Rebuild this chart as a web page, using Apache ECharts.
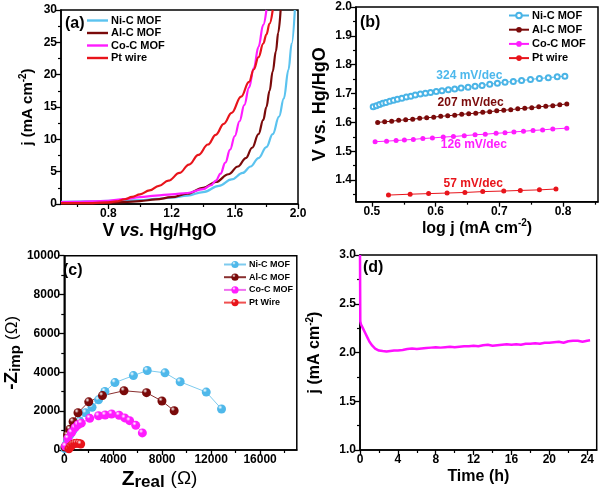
<!DOCTYPE html>
<html><head><meta charset="utf-8">
<script src="https://cdn.jsdelivr.net/npm/echarts@6/dist/echarts.min.js"></script>
<style>html,body{margin:0;padding:0;background:#fff}#c{width:600px;height:492px}</style>
</head><body><div id="c"></div>
<script>
// ---------- DATA ----------
// (a) LSV curves: potential (V vs Hg/HgO) and current density (mA cm-2)
const aNiV = [0.50,0.60,0.70,0.80,0.90,1.00,1.10,1.20,1.30,1.40,1.50,1.58,1.65,1.70,1.75,1.80,1.84,1.88,1.91,1.94,1.96,1.98];
const aNiJ = [0.35,0.38,0.42,0.47,0.53,0.62,0.78,1.0,1.3,1.85,2.8,3.8,4.8,5.8,7.1,8.8,10.8,13.5,16.3,20.8,24.8,30];
const aAlV = [0.50,0.60,0.70,0.80,0.90,1.00,1.10,1.20,1.30,1.40,1.48,1.56,1.62,1.67,1.71,1.75,1.78,1.80,1.82,1.84,1.86,1.875,1.89];
const aAlJ = [0.10,0.12,0.15,0.2,0.3,0.45,0.7,1.05,1.6,2.5,3.4,4.6,5.8,7.1,8.7,10.8,13.0,15.0,17.5,20.5,23.6,26.5,30];
const aCoV = [0.50,0.60,0.70,0.80,0.90,1.00,1.10,1.20,1.30,1.40,1.45,1.48,1.51,1.54,1.57,1.60,1.63,1.66,1.69,1.72,1.75,1.78,1.80];
const aCoJ = [0.3,0.35,0.42,0.5,0.75,1.05,1.3,1.5,1.7,2.3,2.9,3.6,4.7,6.4,8.4,10.5,12.8,15.3,18.0,21.0,24.3,27.7,30];
const aPtV = [0.50,0.60,0.70,0.80,0.85,0.90,0.95,1.00,1.06,1.12,1.18,1.25,1.31,1.37,1.43,1.48,1.53,1.58,1.64,1.69,1.72,1.75,1.78,1.80,1.82,1.84];
const aPtJ = [0.12,0.13,0.15,0.25,0.4,0.7,1.1,1.5,2.1,2.8,3.6,4.8,6.1,7.6,9.2,10.7,12.4,14.1,16.6,18.9,20.8,22.7,24.8,26.2,27.9,30];

// (b) Tafel plots: log j and V
const bNiX = [0.502,0.507,0.512,0.517,0.522,0.528,0.534,0.540,0.547,0.554,0.561,0.568,0.576,0.584,0.592,0.601,0.610,0.620,0.630,0.640,0.651,0.662,0.673,0.685,0.697,0.709,0.722,0.735,0.749,0.763,0.777,0.791,0.803];
const bNiY = [1.654,1.658,1.662,1.666,1.669,1.673,1.677,1.680,1.684,1.688,1.691,1.695,1.698,1.701,1.704,1.707,1.710,1.713,1.716,1.719,1.722,1.725,1.728,1.732,1.736,1.739,1.742,1.745,1.749,1.752,1.755,1.758,1.760];
const bAlX = [0.509,0.520,0.531,0.542,0.553,0.564,0.575,0.586,0.597,0.608,0.619,0.630,0.641,0.652,0.663,0.674,0.685,0.696,0.707,0.718,0.729,0.740,0.751,0.762,0.773,0.784,0.795,0.806];
const bAlY = [1.600,1.602,1.604,1.607,1.609,1.611,1.614,1.616,1.618,1.621,1.623,1.625,1.628,1.630,1.632,1.635,1.637,1.640,1.642,1.644,1.647,1.649,1.651,1.654,1.656,1.658,1.661,1.664];
const bCoX = [0.505,0.523,0.538,0.551,0.565,0.580,0.595,0.612,0.628,0.645,0.662,0.678,0.695,0.709,0.723,0.738,0.753,0.768,0.784,0.806];
const bCoY = [1.533,1.535,1.537,1.539,1.541,1.544,1.546,1.549,1.551,1.554,1.557,1.559,1.562,1.564,1.567,1.569,1.572,1.574,1.577,1.580];
const bPtX = [0.526,0.560,0.589,0.618,0.646,0.674,0.707,0.733,0.763,0.789];
const bPtY = [1.348,1.351,1.353,1.355,1.357,1.360,1.362,1.364,1.366,1.369];
const tafelText = ['324 mV/dec','207 mV/dec','126 mV/dec','57 mV/dec'];
const tafelTextX = [0.653,0.655,0.660,0.659];
const tafelTextY = [1.763,1.667,1.521,1.389];

// (c) Nyquist plots: [Zreal, -Zimp]
const cNi = [[50,80],[140,260],[280,520],[460,780],[720,1030],[990,1250],[1260,1490],[1740,1920],[2270,2200],[2800,2580],[3320,3010],[4140,3470],[5650,3830],[6780,4090],[8230,3970],[9470,3510],[11600,2980],[12850,2110]];
const cAl = [[60,150],[272,770],[456,1070],[720,1460],[1120,1920],[2000,2480],[3120,2800],[4880,3050],[6720,2950],[7980,2520],[8980,2020]];
const cCo = [[100,200],[300,600],[600,900],[880,1150],[1120,1300],[1390,1380],[2080,1630],[2800,1760],[3340,1800],[3870,1850],[4480,1790],[4940,1650],[5340,1510],[5840,1270],[6380,880]];
const cPt = [[380,60],[520,180],[680,280],[850,330],[1020,350],[1200,340],[1340,310]];

// (d) Chronoamperometry: time (h), j (mA cm-2)
const dT = [0,0.03,0.1,0.3,0.5,0.8,1.0,1.3,1.6,2.0,2.4,2.8,3.2,3.6,4.0,4.5,5.0,5.5,6.0,6.5,7.0,7.5,8.0,8.5,9.0,9.5,10,10.5,11,11.5,12,12.5,13,13.5,14,14.5,15,15.5,16,16.5,17,17.5,18,18.5,19,19.5,20,20.5,21,21.5,22,22.5,23,23.5,24,24.3];
const dJ = [3.0,2.32,2.29,2.25,2.21,2.15,2.11,2.07,2.04,2.02,2.015,2.01,2.015,2.02,2.02,2.025,2.035,2.04,2.035,2.04,2.045,2.05,2.055,2.05,2.055,2.06,2.055,2.06,2.065,2.065,2.07,2.065,2.075,2.08,2.07,2.075,2.08,2.085,2.08,2.085,2.08,2.09,2.09,2.095,2.09,2.10,2.10,2.105,2.11,2.10,2.115,2.12,2.12,2.11,2.12,2.125];

// tick values
const aXTicks = [0.8,1.2,1.6,2.0], aXMinor = [0.6,1.0,1.4,1.8];
const aYTicks = [0,5,10,15,20,25,30], aYMinor = [2.5,7.5,12.5,17.5,22.5,27.5];
const bXTicks = [0.5,0.6,0.7,0.8], bXMinor = [0.55,0.65,0.75,0.85];
const bYTicks = [1.4,1.5,1.6,1.7,1.8,1.9,2.0], bYMinor = [1.35,1.45,1.55,1.65,1.75,1.85,1.95];
const cXTicks = [0,4000,8000,12000,16000], cXMinor = [2000,6000,10000,14000,18000];
const cYTicks = [0,2000,4000,6000,8000,10000], cYMinor = [1000,3000,5000,7000,9000];
const dXTicks = [0,4,8,12,16,20,24], dXMinor = [2,6,10,14,18,22];
const dYTicks = [1.0,1.5,2.0,2.5,3.0], dYMinor = [1.25,1.75,2.25,2.75];

const legendA = ['Ni-C MOF','Al-C MOF','Co-C MOF','Pt wire'];
const legendC = ['Ni-C MOF','Al-C MOF','Co-C MOF','Pt Wire'];

// ---------- STYLE ----------
const FONT = '"Liberation Sans", Arial, sans-serif';
const NI = '#5BC3EF', AL = '#7A0A0A', CO = '#FF1CFF', PT = '#E8141B';
const zip = (a, b) => a.slice(0, Math.min(a.length, b.length)).map((v, i) => [v, b[i]]);

function ball(c) {
  return new echarts.graphic.RadialGradient(0.35, 0.3, 0.7, [
    {offset: 0, color: '#ffffff'}, {offset: 0.35, color: c}, {offset: 1, color: c}]);
}
function grid(l, t, w, h) {
  return {left: l, top: t, width: w, height: h, show: true, borderColor: '#000', borderWidth: 1.5, backgroundColor: '#fff', containLabel: false};
}
function txtStyle(size, extra) {
  return Object.assign({color: '#000', fontSize: size, fontWeight: 'bold', fontFamily: FONT}, extra || {});
}
function richSet(base) {
  return {
    sup: {fontSize: 10, fontWeight: 'bold', fontFamily: FONT, color: '#000', verticalAlign: 'top', lineHeight: 10},
    it: {fontSize: base, fontWeight: 'bold', fontStyle: 'italic', fontFamily: FONT, color: '#000'},
    sub: {fontSize: base - 4, fontWeight: 'bold', fontFamily: FONT, color: '#000', verticalAlign: 'bottom', lineHeight: 12},
    om: {fontSize: base - 2, fontWeight: 'normal', fontFamily: FONT, color: '#000'}
  };
}
function majorAxis(dim, g, min, max, ticks, fmt, name, gap, size, lh, pad) {
  return {
    type: 'value', gridIndex: g, min: min, max: max,
    position: dim === 'x' ? 'bottom' : 'left',
    axisLine: {show: true, onZero: false, lineStyle: {color: '#000', width: 1.5}},
    axisTick: {show: true, inside: false, length: 5, customValues: ticks, lineStyle: {color: '#000', width: 1.3}},
    axisLabel: Object.assign({show: true, customValues: ticks, margin: 4, formatter: fmt}, txtStyle(12)),
    splitLine: {show: false},
    name: name, nameLocation: 'middle', nameGap: gap,
    nameTextStyle: Object.assign(txtStyle(size), {lineHeight: lh, rich: richSet(size), padding: pad || 0})
  };
}
function minorAxis(dim, g, min, max, ticks) {
  return {
    type: 'value', gridIndex: g, min: min, max: max,
    position: dim === 'x' ? 'bottom' : 'left',
    axisLine: {show: false, onZero: false},
    axisTick: {show: true, inside: false, length: 3, customValues: ticks, lineStyle: {color: '#000', width: 1.2}},
    axisLabel: {show: false}, splitLine: {show: false}
  };
}
const f1 = v => v.toFixed(1);
const f0 = v => String(Math.round(v));

function lineA(name, x, y, col) {
  return {type: 'line', name: name, xAxisIndex: 0, yAxisIndex: 0, data: zip(x, y), symbol: 'none', showSymbol: false,
    smooth: 0.4, smoothMonotone: 'x',
    lineStyle: {color: col, width: 2.2}, itemStyle: {color: col}, z: 3};
}
function lineB(name, x, y, col, empty, idx, txtCol) {
  return {type: 'line', name: name, xAxisIndex: 1, yAxisIndex: 1, data: zip(x, y),
    symbol: empty ? 'emptyCircle' : 'circle', symbolSize: 5, showSymbol: true,
    lineStyle: {color: col, width: 1}, itemStyle: {color: col, borderColor: col, borderWidth: empty ? 1.2 : 0}, z: 3,
    markPoint: {symbol: 'circle', symbolSize: 0, data: [{coord: [tafelTextX[idx], tafelTextY[idx]], value: tafelText[idx]}],
      label: Object.assign({show: true, position: 'inside', formatter: tafelText[idx]}, txtStyle(12, {color: txtCol || col})),
      silent: true}
  };
}
function lineC(name, d, col, lineCol) {
  return {type: 'line', name: name, xAxisIndex: 2, yAxisIndex: 2, data: d, symbol: 'circle', symbolSize: 9, showSymbol: true,
    lineStyle: {color: lineCol || col, width: 1}, itemStyle: {color: ball(col), borderWidth: 0}, z: 3};
}
function legend(names, left, top, gap, iw, ih, fs, icon) {
  const l = {data: names, orient: 'vertical', left: left, top: top, itemGap: gap, itemWidth: iw, itemHeight: ih,
    padding: 0, selectedMode: false, textStyle: txtStyle(fs, {padding: [0, 0, 0, -2]}), inactiveColor: '#000'};
  if (icon) l.icon = icon;
  return l;
}

const chart = echarts.init(document.getElementById('c'), null, {renderer: 'canvas'});
const S1 = ' ', S2 = '  ';
chart.setOption({
  animation: false,
  backgroundColor: '#fff',
  grid: [grid(61, 10, 237, 194), grid(356, 7, 242, 194.7), grid(59.3, 255.7, 237.5, 194.3), grid(360, 255, 236.7, 195)],
  xAxis: [
    majorAxis('x', 0, 0.5, 2.0, aXTicks, f1, 'V {it|vs.} Hg/HgO', 16, 18, 20, [0, 40, 0, 0]),
    majorAxis('x', 1, 0.475, 0.855, bXTicks, f1, 'log j (mA cm{sup|-2})', 16, 16, 20),
    majorAxis('x', 2, 0, 19000, cXTicks, f0, 'Z{sub|real} {om|(Ω)}', 16, 21, 24, [0, 42, 0, 0]),
    majorAxis('x', 3, 0, 25, dXTicks, f0, 'Time (h)', 15, 16, 20),
    minorAxis('x', 0, 0.5, 2.0, aXMinor), minorAxis('x', 1, 0.475, 0.855, bXMinor),
    minorAxis('x', 2, 0, 19000, cXMinor), minorAxis('x', 3, 0, 25, dXMinor)
  ],
  yAxis: [
    majorAxis('y', 0, 0, 30, aYTicks, f0, 'j (mA cm{sup|-2})', 23, 15, 20),
    majorAxis('y', 1, 1.325, 2.0, bYTicks, f1, 'V vs. Hg/HgO', 24, 18, 22),
    majorAxis('y', 2, 0, 10000, cYTicks, f0, '-Z{sub|imp} {om|(Ω)}', 36, 19, 22),
    majorAxis('y', 3, 1.0, 3.0, dYTicks, f1, 'j (mA cm{sup|-2})', 35, 16, 20),
    minorAxis('y', 0, 0, 30, aYMinor), minorAxis('y', 1, 1.325, 2.0, bYMinor),
    minorAxis('y', 2, 0, 10000, cYMinor), minorAxis('y', 3, 1.0, 3.0, dYMinor)
  ],
  legend: [
    legend(legendA, 87, 15, 1.5, 21, 10, 11, 'path://M0,0L21,0L21,2.4L0,2.4Z'),
    legend(legendA.map(n => n + S1), 508, 10, 3.2, 20, 7, 11),
    legend(legendC.map(n => n + S2), 223, 260, 3.7, 22, 9, 9)
  ],
  graphic: [
    {type: 'text', left: 65, top: 16, style: {text: '(a)', font: 'bold 16px ' + FONT, fill: '#000'}, z: 10},
    {type: 'text', left: 360, top: 15, style: {text: '(b)', font: 'bold 16px ' + FONT, fill: '#000'}, z: 10},
    {type: 'text', left: 63, top: 263, style: {text: '(c)', font: 'bold 16px ' + FONT, fill: '#000'}, z: 10},
    {type: 'text', left: 363, top: 260, style: {text: '(d)', font: 'bold 16px ' + FONT, fill: '#000'}, z: 10}
  ],
  series: [
    lineA(legendA[0], aNiV, aNiJ, NI),
    lineA(legendA[1], aAlV, aAlJ, AL),
    lineA(legendA[2], aCoV, aCoJ, CO),
    lineA(legendA[3], aPtV, aPtJ, PT),
    lineB(legendA[0] + S1, bNiX, bNiY, '#4AB4E6', true, 0, '#4DB8EC'),
    lineB(legendA[1] + S1, bAlX, bAlY, AL, false, 1),
    lineB(legendA[2] + S1, bCoX, bCoY, CO, false, 2),
    lineB(legendA[3] + S1, bPtX, bPtY, PT, false, 3),
    lineC(legendC[0] + S2, cNi, '#4FB8EA', '#7ECBEE'),
    lineC(legendC[1] + S2, cAl, AL, '#8A3030'),
    lineC(legendC[2] + S2, cCo, CO, '#F070F0'),
    lineC(legendC[3] + S2, cPt, PT, '#F05050'),
    {type: 'line', name: 'stability', xAxisIndex: 3, yAxisIndex: 3, data: zip(dT, dJ), symbol: 'none',
      lineStyle: {color: '#FF10FF', width: 2.5}, z: 3}
  ]
});
</script>
</body></html>
